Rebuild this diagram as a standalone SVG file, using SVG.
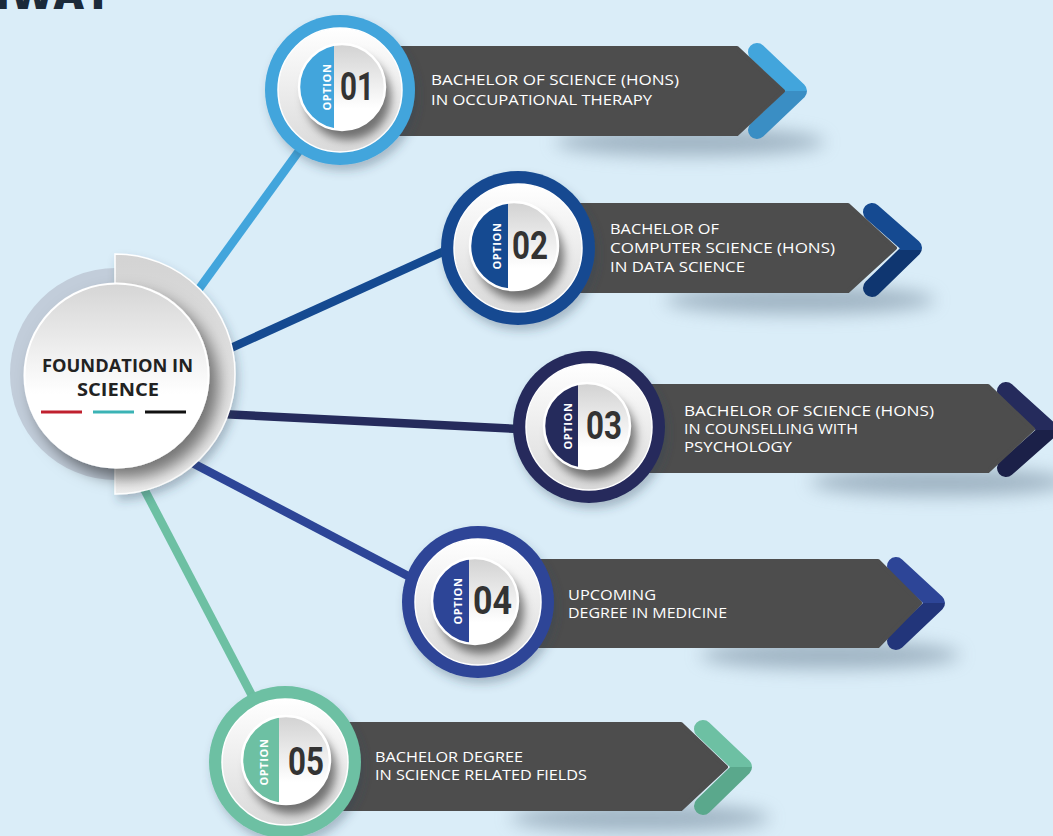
<svg xmlns="http://www.w3.org/2000/svg" width="1053" height="836" viewBox="0 0 1053 836">
<defs>
<style>
.bar{fill:#4D4D4D;stroke:#4D4D4D;stroke-width:4;stroke-linejoin:round}
.lbl{font-family:"Open Sans","Liberation Sans",sans-serif;font-size:15px;font-weight:500;fill:#FFFFFF}
.num{font-family:"Roboto","Liberation Sans",sans-serif;font-size:39px;font-weight:700;fill:#333333}
.opt{font-family:"Open Sans","Liberation Sans",sans-serif;font-size:11px;font-weight:700;fill:#FFFFFF;letter-spacing:0.6px}
.disc{fill:url(#gDisc)}
.badge{fill:url(#gBadge)}
.bstroke{fill:none;stroke:#FFFFFF;stroke-width:2.5}
.chev{fill:none;stroke-width:18;stroke-linejoin:round;stroke-linecap:round}
.shade{fill:#6F8598;opacity:0.55}
.conn{fill:none;stroke-width:8.5}
</style>
<linearGradient id="gDisc" x1="0" y1="0" x2="0" y2="1"><stop offset="0" stop-color="#FFFFFF"/><stop offset="1" stop-color="#DADADA"/></linearGradient>
<linearGradient id="gBadge" x1="0" y1="0" x2="0" y2="1"><stop offset="0" stop-color="#D2D2D2"/><stop offset="0.75" stop-color="#FFFFFF"/></linearGradient>
<linearGradient id="gCenter" x1="0" y1="0" x2="0" y2="1"><stop offset="0" stop-color="#D5D5D5"/><stop offset="0.6" stop-color="#FFFFFF"/></linearGradient>
<linearGradient id="gHalf" x1="0" y1="0" x2="0" y2="1"><stop offset="0" stop-color="#D3D3D3"/><stop offset="1" stop-color="#EFEFEF"/></linearGradient>
<linearGradient id="c1" x1="0" y1="0" x2="0" y2="1"><stop offset="0.5" stop-color="#42A5DC"/><stop offset="0.5" stop-color="#3A8EC4"/></linearGradient>
<linearGradient id="c2" x1="0" y1="0" x2="0" y2="1"><stop offset="0.5" stop-color="#154A91"/><stop offset="0.5" stop-color="#0F3670"/></linearGradient>
<linearGradient id="c3" x1="0" y1="0" x2="0" y2="1"><stop offset="0.5" stop-color="#252B5C"/><stop offset="0.5" stop-color="#1B2048"/></linearGradient>
<linearGradient id="c4" x1="0" y1="0" x2="0" y2="1"><stop offset="0.5" stop-color="#2D4597"/><stop offset="0.5" stop-color="#22357A"/></linearGradient>
<linearGradient id="c5" x1="0" y1="0" x2="0" y2="1"><stop offset="0.5" stop-color="#6DC0A3"/><stop offset="0.5" stop-color="#5AA88C"/></linearGradient>
<filter id="fBlur" x="-50%" y="-100%" width="200%" height="300%"><feGaussianBlur stdDeviation="9"/></filter>
<filter id="fBadge" x="-40%" y="-40%" width="190%" height="190%"><feDropShadow dx="6" dy="10" stdDeviation="5" flood-color="#000000" flood-opacity="0.5"/></filter>
<filter id="fRing" x="-30%" y="-30%" width="170%" height="170%"><feDropShadow dx="3" dy="6" stdDeviation="5" flood-color="#2A3F55" flood-opacity="0.3"/></filter>
<filter id="fCenter" x="-30%" y="-30%" width="170%" height="170%"><feDropShadow dx="9" dy="10" stdDeviation="8" flood-color="#000000" flood-opacity="0.5"/></filter>
</defs>

<rect x="0" y="0" width="1053" height="836" fill="#DAEDF8"/>
<text x="112" y="9" text-anchor="end" font-family="Open Sans, Liberation Sans, sans-serif" font-size="42" font-weight="800" fill="#1B2A3A">PATHWAY</text>

<g id="connectors">
<line class="conn" x1="175" y1="322" x2="320" y2="122" stroke="#42A5DC"/>
<line class="conn" x1="200" y1="362" x2="480" y2="235" stroke="#154A91"/>
<line class="conn" x1="180" y1="412" x2="560" y2="431" stroke="#252B5C"/>
<line class="conn" x1="160" y1="446" x2="450" y2="598" stroke="#2D4597"/>
<line class="conn" x1="130" y1="462" x2="270" y2="730" stroke="#6DC0A3"/>
</g>

<g id="foundation">
<circle cx="116" cy="374" r="106" fill="#C2CDDA"/>
<path d="M115,254 A120,120 0 0 1 115,494 Z" fill="url(#gHalf)" stroke="#FFFFFF" stroke-width="1.5" filter="url(#fRing)"/>
<circle cx="116.5" cy="375.5" r="92" fill="url(#gCenter)" stroke="#FFFFFF" stroke-width="2" filter="url(#fCenter)"/>
<text x="117.5" y="372" text-anchor="middle" font-family="Open Sans, Liberation Sans, sans-serif" font-size="18" font-weight="700" fill="#222222" textLength="151" lengthAdjust="spacingAndGlyphs">FOUNDATION IN</text>
<text x="118" y="396" text-anchor="middle" font-family="Open Sans, Liberation Sans, sans-serif" font-size="18" font-weight="700" fill="#222222" textLength="82" lengthAdjust="spacingAndGlyphs">SCIENCE</text>
<rect x="41" y="410.5" width="41" height="3" fill="#C0202E"/>
<rect x="93" y="410.5" width="41" height="3" fill="#3BB3B5"/>
<rect x="145" y="410.5" width="41" height="3" fill="#111111"/>
</g>

<g id="option-01">
<ellipse class="shade" cx="690" cy="142" rx="135" ry="14" filter="url(#fBlur)"/>
<polyline class="chev" points="757,52 798,91 757,130" stroke="url(#c1)"/>
<path class="bar" d="M340,48 H737 L783,91 L737,134 H340 Z"/>
<circle cx="340" cy="90" r="75" fill="#42A5DC" filter="url(#fRing)"/>
<circle class="disc" cx="340" cy="90" r="62" stroke="#FFFFFF" stroke-width="1.5"/>
<circle class="badge" cx="342" cy="87" r="43" filter="url(#fBadge)"/>
<path d="M334,44.75 A43,43 0 0 0 334,129.25 Z" fill="#42A5DC"/>
<circle class="bstroke" cx="342" cy="87" r="43"/>
<text class="opt" x="331" y="87" text-anchor="middle" transform="rotate(-90 331 87)">OPTION</text>
<text class="num" x="340" y="100" textLength="34" lengthAdjust="spacingAndGlyphs">01</text>
<text class="lbl" x="431" y="85" textLength="248" lengthAdjust="spacingAndGlyphs">BACHELOR OF SCIENCE (HONS)</text>
<text class="lbl" x="431" y="105" textLength="221" lengthAdjust="spacingAndGlyphs">IN OCCUPATIONAL THERAPY</text>
</g>

<g id="option-02">
<ellipse class="shade" cx="800" cy="300" rx="135" ry="14" filter="url(#fBlur)"/>
<polyline class="chev" points="872,212 913,248 872,288" stroke="url(#c2)"/>
<path class="bar" d="M518,205 H848 L895,248 L848,291 H518 Z"/>
<circle cx="518" cy="248" r="77" fill="#154A91" filter="url(#fRing)"/>
<circle class="disc" cx="518" cy="248" r="64" stroke="#FFFFFF" stroke-width="1.5"/>
<circle class="badge" cx="514" cy="246" r="44" filter="url(#fBadge)"/>
<path d="M508,202.41 A44,44 0 0 0 508,289.59 Z" fill="#154A91"/>
<circle class="bstroke" cx="514" cy="246" r="44"/>
<text class="opt" x="501" y="246" text-anchor="middle" transform="rotate(-90 501 246)">OPTION</text>
<text class="num" x="512" y="259" textLength="36" lengthAdjust="spacingAndGlyphs">02</text>
<text class="lbl" x="610" y="234" textLength="109" lengthAdjust="spacingAndGlyphs">BACHELOR OF</text>
<text class="lbl" x="610" y="253" textLength="225" lengthAdjust="spacingAndGlyphs">COMPUTER SCIENCE (HONS)</text>
<text class="lbl" x="610" y="272" textLength="135" lengthAdjust="spacingAndGlyphs">IN DATA SCIENCE</text>
</g>

<g id="option-03">
<ellipse class="shade" cx="940" cy="482" rx="130" ry="14" filter="url(#fBlur)"/>
<polyline class="chev" points="1006,391 1049,430 1006,468" stroke="url(#c3)"/>
<path class="bar" d="M589,386 H988 L1033,429 L988,471 H589 Z"/>
<circle cx="589" cy="427" r="76" fill="#252B5C" filter="url(#fRing)"/>
<circle class="disc" cx="589" cy="427" r="63" stroke="#FFFFFF" stroke-width="1.5"/>
<circle class="badge" cx="587" cy="426" r="43" filter="url(#fBadge)"/>
<path d="M578,383.95 A43,43 0 0 0 578,468.05 Z" fill="#252B5C"/>
<circle class="bstroke" cx="587" cy="426" r="43"/>
<text class="opt" x="572" y="426" text-anchor="middle" transform="rotate(-90 572 426)">OPTION</text>
<text class="num" x="586" y="439" textLength="36" lengthAdjust="spacingAndGlyphs">03</text>
<text class="lbl" x="684" y="416" textLength="250" lengthAdjust="spacingAndGlyphs">BACHELOR OF SCIENCE (HONS)</text>
<text class="lbl" x="684" y="434" textLength="174" lengthAdjust="spacingAndGlyphs">IN COUNSELLING WITH</text>
<text class="lbl" x="684" y="452" textLength="108" lengthAdjust="spacingAndGlyphs">PSYCHOLOGY</text>
</g>

<g id="option-04">
<ellipse class="shade" cx="830" cy="655" rx="130" ry="14" filter="url(#fBlur)"/>
<polyline class="chev" points="896,566 936,603 896,641" stroke="url(#c4)"/>
<path class="bar" d="M478,561 H878 L920,603 L878,646 H478 Z"/>
<circle cx="478" cy="602" r="76" fill="#2D4597" filter="url(#fRing)"/>
<circle class="disc" cx="478" cy="602" r="63" stroke="#FFFFFF" stroke-width="1.5"/>
<circle class="badge" cx="475" cy="601" r="43" filter="url(#fBadge)"/>
<path d="M469,558.42 A43,43 0 0 0 469,643.58 Z" fill="#2D4597"/>
<circle class="bstroke" cx="475" cy="601" r="43"/>
<text class="opt" x="462" y="601" text-anchor="middle" transform="rotate(-90 462 601)">OPTION</text>
<text class="num" x="473" y="614" textLength="39" lengthAdjust="spacingAndGlyphs">04</text>
<text class="lbl" x="568" y="600" textLength="88" lengthAdjust="spacingAndGlyphs">UPCOMING</text>
<text class="lbl" x="568" y="618" textLength="159" lengthAdjust="spacingAndGlyphs">DEGREE IN MEDICINE</text>
</g>

<g id="option-05">
<ellipse class="shade" cx="640" cy="818" rx="130" ry="14" filter="url(#fBlur)"/>
<polyline class="chev" points="703,729 743,767 703,806" stroke="url(#c5)"/>
<path class="bar" d="M285,724 H681 L726,767 L681,809 H285 Z"/>
<circle cx="285" cy="762" r="76" fill="#6DC0A3" filter="url(#fRing)"/>
<circle class="disc" cx="285" cy="762" r="63" stroke="#FFFFFF" stroke-width="1.5"/>
<circle class="badge" cx="286" cy="760" r="44" filter="url(#fBadge)"/>
<path d="M279,716.56 A44,44 0 0 0 279,803.44 Z" fill="#6DC0A3"/>
<circle class="bstroke" cx="286" cy="760" r="44"/>
<text class="opt" x="268" y="762" text-anchor="middle" transform="rotate(-90 268 762)">OPTION</text>
<text class="num" x="288" y="775" textLength="36" lengthAdjust="spacingAndGlyphs">05</text>
<text class="lbl" x="375" y="762" textLength="148" lengthAdjust="spacingAndGlyphs">BACHELOR DEGREE</text>
<text class="lbl" x="375" y="780" textLength="212" lengthAdjust="spacingAndGlyphs">IN SCIENCE RELATED FIELDS</text>
</g>
</svg>
